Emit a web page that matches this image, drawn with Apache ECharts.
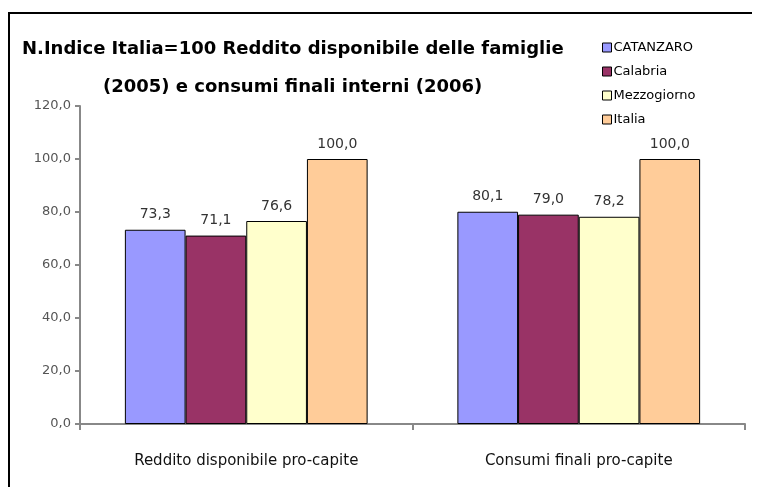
<!DOCTYPE html>
<html>
<head>
<meta charset="utf-8">
<script src="https://cdn.jsdelivr.net/npm/echarts@6/dist/echarts.min.js"></script>
<style>
  html, body { margin: 0; padding: 0; background: #fff; overflow: hidden; }
  #main { width: 764px; height: 487px; }
</style>
</head>
<body>
<div id="main"></div>
<script>
  // dati
  const categories = ['Reddito disponibile pro-capite', 'Consumi finali pro-capite']
  const seriesNames = ['CATANZARO', 'Calabria', 'Mezzogiorno', 'Italia']
  const catanzaro = [73.3, 80.1]
  const calabria = [71.1, 79.0]
  const mezzogiorno = [76.6, 78.2]
  const italia = [100.0, 100.0]
  const colors = ['#9999FF', '#993366', '#FFFFCC', '#FFCC99']

  const values = [catanzaro, calabria, mezzogiorno, italia]
  const fmt = v => v.toFixed(1).replace('.', ',')

  const seriesData = seriesNames.map((name, i) => ({
    name: name,
    type: 'bar',
    barGap: '0%',
    barCategoryGap: '27%',
    itemStyle: { color: colors[i], borderColor: '#000', borderWidth: 1 },
    label: {
      show: true,
      position: 'top',
      distance: 8,
      color: '#333',
      fontSize: 14,
      fontFamily: 'DejaVu Sans',
      formatter: p => fmt(p.value)
    },
    data: values[i]
  }))

  const myChart = echarts.init(document.getElementById('main'))
  const option = {
    animation: false,
    backgroundColor: '#fff',
    graphic: [
      // cornice (solo lato superiore e sinistro)
      { type: 'line', shape: { x1: 8, y1: 13, x2: 752, y2: 13 }, style: { stroke: '#000', lineWidth: 2 } },
      { type: 'line', shape: { x1: 9, y1: 12, x2: 9, y2: 487 }, style: { stroke: '#000', lineWidth: 2 } },
      {
        type: 'text', left: 22, top: 40,
        style: { text: 'N.Indice Italia=100 Reddito disponibile delle famiglie', font: 'bold 18px "DejaVu Sans"', fill: '#000' }
      },
      {
        type: 'text', left: 103, top: 78,
        style: { text: '(2005) e consumi finali interni (2006)', font: 'bold 18px "DejaVu Sans"', fill: '#000' }
      }
    ],
    legend: {
      data: seriesNames,
      orient: 'vertical',
      left: 597,
      top: 36,
      itemWidth: 9,
      itemHeight: 9,
      itemGap: 11,
      icon: 'rect',
      itemStyle: { borderColor: '#000', borderWidth: 1 },
      textStyle: { color: '#000', fontSize: 13, fontFamily: 'DejaVu Sans', padding: [0, 0, 0, -3] }
    },
    grid: { left: 80, right: 19, top: 106, bottom: 63 },
    xAxis: {
      type: 'category',
      data: categories,
      axisLine: { lineStyle: { color: '#888', width: 2 } },
      axisTick: { show: true, length: 6, lineStyle: { color: '#888', width: 2 } },
      axisLabel: { color: '#111', fontSize: 15, fontFamily: 'DejaVu Sans', margin: 30 }
    },
    yAxis: {
      type: 'value',
      min: 0,
      max: 120,
      interval: 20,
      axisLine: { show: true, lineStyle: { color: '#888', width: 2 } },
      axisTick: { show: true, length: 5, lineStyle: { color: '#888', width: 2 } },
      splitLine: { show: false },
      axisLabel: { color: '#555', fontSize: 13, fontFamily: 'DejaVu Sans', margin: 9, formatter: v => fmt(v) }
    },
    series: seriesData
  }
  myChart.setOption(option)
</script>
</body>
</html>
